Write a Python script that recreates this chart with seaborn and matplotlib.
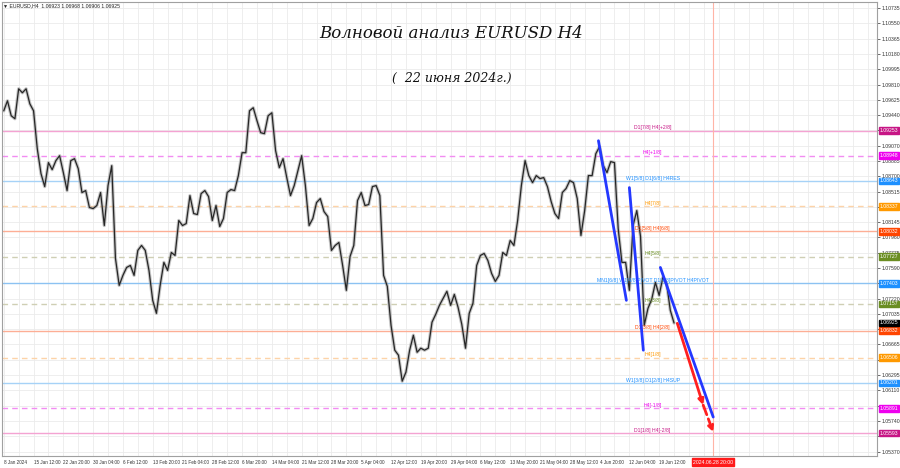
import numpy as np
import pandas as pd
import seaborn as sns
import matplotlib.pyplot as plt
import matplotlib.transforms as mtrans


###############################
######### data ################
###############################
# closes, one value every 4 H4 bars from 8 Jan 2024
close = [1.09492, 1.09613, 1.09432, 1.09396, 1.09758, 1.09710, 1.09758, 1.09577, 1.09492, 1.09034,
         1.08732, 1.08575, 1.08865, 1.08780, 1.08889, 1.08949, 1.08744, 1.08527, 1.08889, 1.08913,
         1.08792, 1.08503, 1.08527, 1.08322, 1.08309, 1.08346, 1.08503, 1.08104, 1.08587, 1.08828,
         1.07706, 1.07380, 1.07501, 1.07597, 1.07621, 1.07501, 1.07803, 1.07863, 1.07803, 1.07561,
         1.07199, 1.07042, 1.07380, 1.07658, 1.07561, 1.07778, 1.07742, 1.08165, 1.08104, 1.08128,
         1.08466, 1.08249, 1.08237, 1.08490, 1.08527, 1.08454, 1.08165, 1.08346, 1.08092, 1.08189,
         1.08503, 1.08539, 1.08527, 1.08708, 1.08985, 1.08985, 1.09492, 1.09529, 1.09372, 1.09227,
         1.09215, 1.09432, 1.09468, 1.09010, 1.08804, 1.08913, 1.08684, 1.08466, 1.08587, 1.08768,
         1.08949, 1.08587, 1.08104, 1.08189, 1.08382, 1.08430, 1.08273, 1.08213, 1.07803, 1.07863,
         1.07899, 1.07621, 1.07320, 1.07730, 1.07863, 1.08406, 1.08503, 1.08346, 1.08358, 1.08575,
         1.08587, 1.08466, 1.07501, 1.07368, 1.06897, 1.06596, 1.06535, 1.06221, 1.06330, 1.06596,
         1.06777, 1.06571, 1.06620, 1.06596, 1.06620, 1.06934, 1.07030, 1.07139, 1.07223, 1.07308,
         1.07139, 1.07271, 1.07115, 1.06909, 1.06620, 1.07042, 1.07163, 1.07621, 1.07742, 1.07766,
         1.07682, 1.07525, 1.07428, 1.07501, 1.07778, 1.07742, 1.07923, 1.07863, 1.08165, 1.08587,
         1.08889, 1.08708, 1.08623, 1.08708, 1.08672, 1.08684, 1.08575, 1.08394, 1.08249, 1.08189,
         1.08503, 1.08551, 1.08647, 1.08623, 1.08430, 1.07984, 1.08285, 1.08708, 1.08708, 1.08973,
         1.09058, 1.08828, 1.08744, 1.08877, 1.08865, 1.08068, 1.07658, 1.07658, 1.07320, 1.08104,
         1.08285, 1.07972, 1.06897, 1.07102, 1.07211, 1.07416, 1.07259, 1.07477, 1.07404, 1.07078,
         1.06925]
step = 4  # bars per sample

date_labels = ['8 Jan 2024', '15 Jan 12:00', '22 Jan 20:00', '30 Jan 04:00', '6 Feb 12:00',
               '13 Feb 20:00', '21 Feb 04:00', '28 Feb 12:00', '6 Mar 20:00', '14 Mar 04:00',
               '21 Mar 12:00', '28 Mar 20:00', '5 Apr 04:00', '12 Apr 12:00', '19 Apr 20:00',
               '29 Apr 04:00', '6 May 12:00', '13 May 20:00', '21 May 04:00', '28 May 12:00',
               '4 Jun 20:00', '12 Jun 04:00', '19 Jun 12:00']
date_every = 32

price_ticks = np.round(np.arange(1.05370, 1.10736, 0.00185), 5)

## murrey levels
level_price = [1.09253, 1.08948, 1.08643, 1.08337, 1.08032, 1.07727, 1.07403,
               1.07157, 1.06832, 1.06506, 1.06201, 1.05891, 1.05593]
level_text = ['D1[7/8] H4[+2/8]', 'H4[+1/8]', 'W1[5/8] D1[6/8] H4RES', 'H4[7/8]',
              'D1[5/8] H4[6/8]', 'H4[5/8]', 'MN1[6/8] W1[4/8]PIVOT D1[4/8]PIVOT H4PIVOT',
              'H4[3/8]', 'D1[3/8] H4[2/8]', 'H4[1/8]', 'W1[3/8] D1[2/8] H4SUP',
              'H4[-1/8]', 'D1[1/8] H4[-2/8]']
level_line = ['#f4a3d2', '#f28cf2', '#a6d2f7', '#fdd3a8', '#fdae95', '#cfcfb4', '#8cc2f2',
              '#cfcfb4', '#fdae95', '#fdd3a8', '#a6d2f7', '#f28cf2', '#f4a3d2']
level_col = ['#c71585', '#ee00ee', '#1e90ff', '#ff9900', '#ff4500', '#6b8e23', '#1e90ff',
             '#6b8e23', '#ff4500', '#ff9900', '#1e90ff', '#ee00ee', '#c71585']
level_dash = [False, True, False, True, False, True, False,
              True, False, True, False, True, False]
last_price = 1.06925

## wave marks
wave_x = [[638.8, 668.8], [672.0, 687.0], [705.3, 762.1]]
wave_y = [[1.09130, 1.07199], [1.08563, 1.06596], [1.07597, 1.05787]]
arrow_x = [723.5, 751.3, 762.1]
arrow_y = [1.06921, 1.05932, 1.05606]
future_bar = 762
future_label = '2024.06.28 20:00'


##############################
######## plot ################
##############################
sns.set_style('white')
plt.rcParams['font.family'] = ['Liberation Sans', 'DejaVu Sans']
fs = 3.7

fig = plt.figure(figsize=(9, 4.68), dpi=100)
ax = fig.add_axes([0.002, 12 / 468, 875 / 900, 454 / 468])

df = pd.DataFrame({'bar': np.arange(len(close)) * step, 'close': close})
sns.lineplot(data=df, x='bar', y='close', color='#8c8c8c', lw=2.4, alpha=0.5, ax=ax)
sns.lineplot(data=df, x='bar', y='close', color='#262626', lw=0.9, ax=ax)

ax.set_xlim(-2.1, 937.8)
ax.set_ylim(1.05316, 1.10808)

## grid; price labels sitting under a level box are left out, like the terminal does
ax.set_yticks(price_ticks)
ylabels = []
for p in price_ticks:
    if min(abs(p - q) for q in level_price) < 0.0004:
        ylabels.append('')
    else:
        ylabels.append('%.5f' % p)
ax.set_yticklabels(ylabels)
ax.set_xticks(np.arange(len(date_labels)) * date_every)
ax.set_xticklabels(date_labels, ha='left')
ax.set_xticks(np.arange(0, 940, 16), minor=True)
ax.grid(which='both', color='#ebebeb', lw=0.6)
ax.set_axisbelow(True)
ax.yaxis.tick_right()
ax.tick_params(axis='both', labelsize=fs, colors='#333333', length=2, width=0.5, pad=1.2)
ax.tick_params(axis='x', labelsize=3.3)
ax.tick_params(axis='x', which='minor', length=0)
ax.set_xlabel('')
ax.set_ylabel('')
for s in ax.spines.values():
    s.set_color('#a0a0a0')
    s.set_linewidth(0.8)

## levels
trans = mtrans.blended_transform_factory(ax.transAxes, ax.transData)
for p, t, lc, c, d in zip(level_price, level_text, level_line, level_col, level_dash):
    ax.axhline(p, color=lc, lw=1.0, ls=(0, (4, 3)) if d else '-', zorder=1)
    ax.text(697, p + 0.00004, t, color=c, fontsize=fs, ha='center', va='bottom', zorder=2)
    ax.text(1.003, p, '%.5f' % p, transform=trans, color='white', fontsize=fs,
            ha='left', va='center', clip_on=False, zorder=6,
            bbox=dict(boxstyle='square,pad=0.15', fc=c, ec=c))
ax.text(1.003, last_price, '%.5f' % last_price, transform=trans, color='white', fontsize=fs,
        ha='left', va='center', clip_on=False, zorder=6,
        bbox=dict(boxstyle='square,pad=0.15', fc='black', ec='black'))

## wave marks
ax.axvline(future_bar, color='#ffb4a6', lw=0.8, zorder=1)
for xs, ys in zip(wave_x, wave_y):
    ax.plot(xs, ys, color='#2438ff', lw=2, solid_capstyle='round', zorder=4)
ax.annotate('', xy=(arrow_x[1], arrow_y[1]), xytext=(arrow_x[0], arrow_y[0]),
            arrowprops=dict(arrowstyle='-|>', color='#ff2020', lw=2, mutation_scale=8,
                            shrinkA=0, shrinkB=0), zorder=5)
ax.annotate('', xy=(arrow_x[2], arrow_y[2]), xytext=(arrow_x[1], arrow_y[1]),
            arrowprops=dict(arrowstyle='-|>', color='#ff2020', lw=2, ls='--', mutation_scale=8,
                            shrinkA=0, shrinkB=0), zorder=5)

trans_x = mtrans.blended_transform_factory(ax.transData, ax.transAxes)
ax.text(future_bar, -0.008, future_label, transform=trans_x, color='white', fontsize=fs,
        ha='center', va='top', clip_on=False, zorder=6,
        bbox=dict(boxstyle='square,pad=0.25', fc='#ff1a1a', ec='#ff1a1a'))

## titles
fig.text(3 / 900, 1 - 6 / 468, '\u25bc EURUSD,H4  1.06923 1.06968 1.06906 1.06925',
         fontsize=fs, color='#222222', ha='left', va='center')
fig.text(451 / 900, 1 - 33 / 468, 'Волновой анализ EURUSD H4', fontsize=12,
         family='DejaVu Serif', style='italic', color='#111111', ha='center', va='center')
fig.text(452 / 900, 1 - 78 / 468, '(  22 июня 2024г.)', fontsize=9,
         family='DejaVu Serif', style='italic', color='#111111', ha='center', va='center')

fig.savefig('out.png', dpi=100)
